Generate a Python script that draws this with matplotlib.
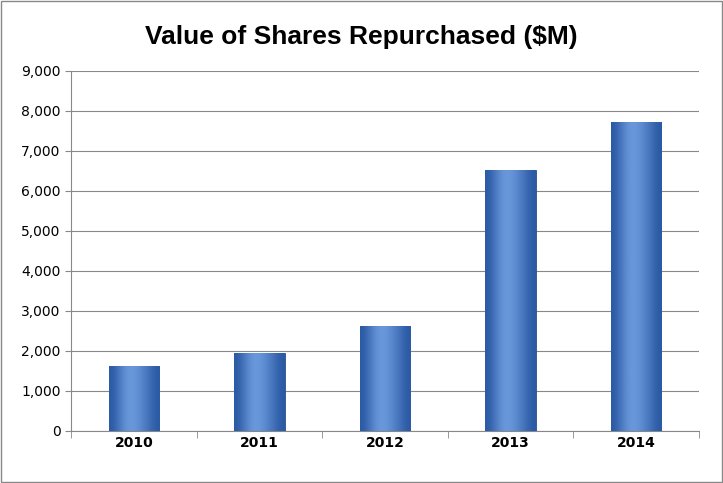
import matplotlib
matplotlib.use("Agg")
import matplotlib.pyplot as plt
import numpy as np
from matplotlib.patches import Rectangle

years = ["2010", "2011", "2012", "2013", "2014"]
values = [1625, 1950, 2625, 6525, 7725]
yticks = list(range(0, 9001, 1000))

fig = plt.figure(figsize=(7.23, 4.83), dpi=100)
fig.patches.append(Rectangle((0.002, 0.002), 0.996, 0.996, transform=fig.transFigure,
                             fill=False, edgecolor="#888888", linewidth=1))
ax = fig.add_axes([71/723, 1-431/483, (699-71)/723, (431-71)/483])
x = np.arange(len(years))
bars = ax.bar(x, values, width=0.4, color="#3a6fc0", edgecolor="#2a4f8a", linewidth=0.6, zorder=3)
grad = np.array([[0.0, 0.45, 0.7, 0.55, 0.3, 0.0]])
from matplotlib.colors import LinearSegmentedColormap
cmap = LinearSegmentedColormap.from_list("b", ["#2b5aa5", "#6f9de0"])
for b in bars:
    xx, w, h = b.get_x(), b.get_width(), b.get_height()
    im = ax.imshow(grad, extent=[xx, xx + w, 0, h], aspect="auto", cmap=cmap,
                   interpolation="bicubic", zorder=4)
    im.set_clip_path(b)
ax.set_xlim(-0.5, 4.5)
ax.set_ylim(0, 9000)
ax.set_yticks(yticks)
ax.set_yticklabels([f"{v:,}" for v in yticks], fontsize=10, family="DejaVu Sans")
ax.set_xticks(x)
ax.set_xticklabels(years, fontsize=10, fontweight="bold")
ax.set_xticks(np.arange(-0.5, 5, 1), minor=True)
ax.tick_params(axis="x", which="major", length=0)
ax.tick_params(axis="x", which="minor", length=5, color="#888888")
ax.tick_params(axis="y", length=4, color="#888888")
ax.grid(axis="y", color="#888888", linewidth=0.8, zorder=0)
for s in ["top", "right"]:
    ax.spines[s].set_visible(False)
for s in ["left", "bottom"]:
    ax.spines[s].set_color("#888888")
fig.text(0.5, 1-37/483, "Value of Shares Repurchased ($M)", ha="center", va="center",
         fontsize=19, fontweight="bold", family="Liberation Sans")
fig.savefig("out.png", dpi=100)
